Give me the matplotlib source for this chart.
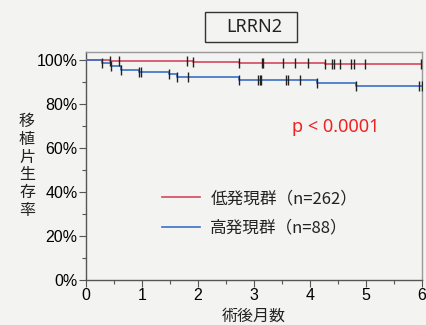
import matplotlib
matplotlib.use("Agg")
import matplotlib.pyplot as plt
import numpy as np
from matplotlib.lines import Line2D
from matplotlib.patches import Rectangle

# ---- data ----
title = "LRRN2"
low_label = "低発現群（n=262）"
high_label = "高発現群（n=88）"
p_text = "p < 0.0001"
xlabel = "術後月数"
ylabel = "移植片生存率"

low_times = [0, 0.43, 1.91, 2.73, 4.27, 6.0]
low_surv = [100, 99.5, 99.0, 98.6, 98.0, 98.0]
low_censor = [0.43, 0.59, 1.80, 1.91, 2.73, 3.14, 3.16, 3.52, 3.73, 3.96, 4.27,
              4.40, 4.43, 4.54, 4.73, 4.79, 4.99, 5.98]

high_times = [0, 0.29, 0.45, 0.62, 0.95, 1.49, 1.62, 2.73, 4.13, 4.83, 6.0]
high_surv = [100, 98.8, 97.2, 95.5, 94.4, 93.5, 92.1, 90.9, 89.6, 88.3, 88.3]
high_censor = [0.29, 0.45, 0.62, 0.95, 0.99, 1.49, 1.62, 1.82, 2.73, 3.07, 3.10,
               3.13, 3.57, 3.60, 3.82, 4.13, 4.83, 5.95, 6.0]

xticks = [0, 1, 2, 3, 4, 5, 6]
yticks = [0, 20, 40, 60, 80, 100]
ytick_labels = ["0%", "20%", "40%", "60%", "80%", "100%"]

red = "#d6475e"
blue = "#3b6fc6"
bg = "#f3f3f1"

def surv_at(times, surv, t):
    idx = np.searchsorted(times, t, side="right") - 1
    return np.array(surv)[idx]

fig = plt.figure(figsize=(4.27, 3.25), dpi=100, facecolor=bg)
ax = fig.add_axes([86/427, 1-280/325, (422-86)/427, (280-52)/325])
ax.set_facecolor(bg)

ax.step(low_times, low_surv, where="post", color=red, lw=1.2, zorder=3)
ax.step(high_times, high_surv, where="post", color=blue, lw=1.2, zorder=4)
ax.plot(low_censor, surv_at(low_times, low_surv, low_censor), ls="none",
        marker="|", ms=7.5, mew=1.0, color="#222222", zorder=5)
ax.plot(high_censor, surv_at(high_times, high_surv, high_censor), ls="none",
        marker="|", ms=7.5, mew=1.0, color="#222222", zorder=5)

ax.set_xlim(0, 6)
ax.set_ylim(0, 103.6)
ax.set_xticks(xticks)
ax.set_xticklabels([str(x) for x in xticks], fontsize=11.5, family="Liberation Sans")
ax.set_yticks(yticks)
ax.set_yticklabels(ytick_labels, fontsize=11.5, family="Liberation Sans")
ax.set_xticks(np.arange(0.5, 6, 1.0), minor=True)
ax.set_yticks(np.arange(10, 100, 20), minor=True)
ax.tick_params(which="major", length=5, width=0.8, color="#555555", pad=1)
ax.tick_params(which="minor", length=3, width=0.8, color="#555555")
for s in ax.spines.values():
    s.set_color("#999999")
    s.set_linewidth(1.0)
ax.spines["left"].set_color("#555555")
ax.spines["bottom"].set_color("#555555")

cjk = ["Noto Sans CJK JP", "DejaVu Sans"]

# title box
fig.patches.append(Rectangle((205/427, 1-42/325), 92/427, 30/325, transform=fig.transFigure,
                             fill=False, ec="#333333", lw=1.0))
fig.text(254/427, 1-27/325, title, ha="center", va="center",
         fontsize=13, family="Noto Sans", color="#222222")

ax.text(3.68, 69.5, p_text, color="#ee2222", fontsize=13, family="Noto Sans",
        ha="left", va="center")

handles = [Line2D([0], [0], color=red, lw=1.2), Line2D([0], [0], color=blue, lw=1.2)]
leg = ax.legend(handles, [low_label, high_label], loc="upper left",
                bbox_to_anchor=((147-86)/336, (280-175)/228), frameon=False,
                prop={"family": cjk, "size": 12}, handlelength=2.3,
                handletextpad=0.6, labelspacing=0.75)
for t in leg.get_texts():
    t.set_color("#222222")

fig.text(27/427, 1-166/325, "\n".join(ylabel), ha="center", va="center",
         fontsize=11.5, family=cjk, linespacing=1.05, color="#222222")
fig.text(254/427, 1-316/325, xlabel, ha="center", va="center",
         fontsize=11.5, family=cjk, color="#222222")

fig.savefig("out.png", dpi=100, facecolor=bg)
